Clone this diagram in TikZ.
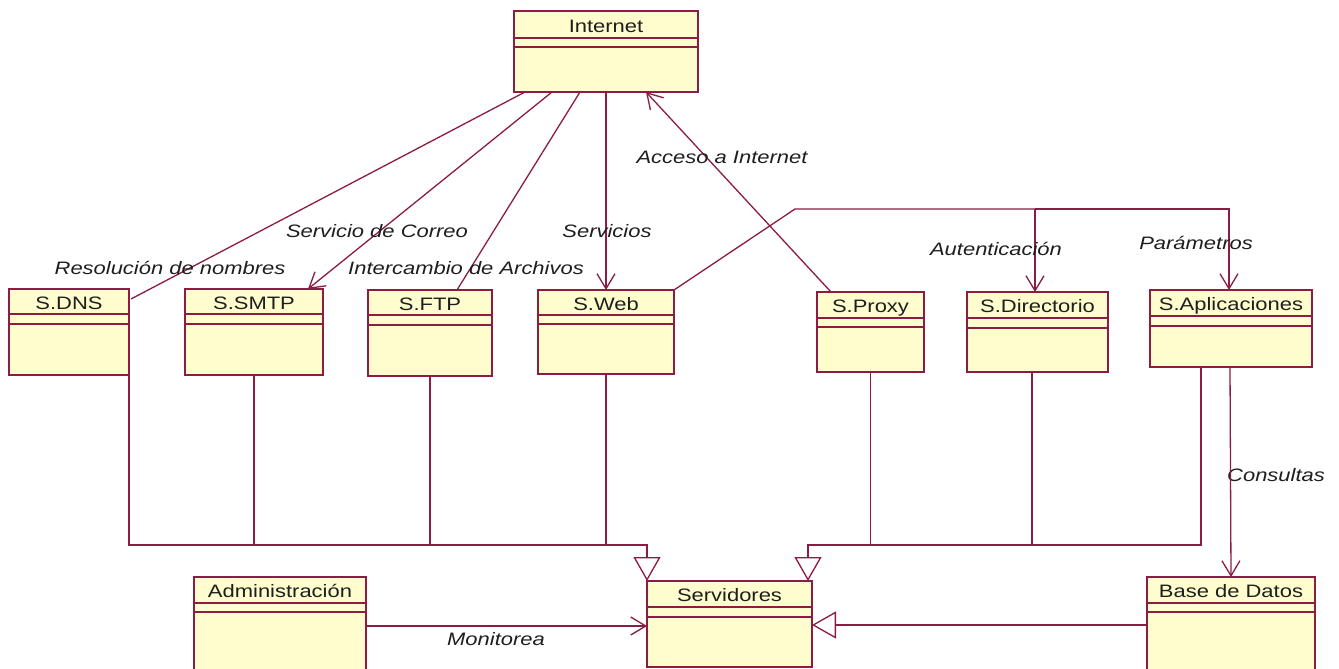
\documentclass[tikz,border=0pt]{standalone}
\usepackage{fontspec}
\setmainfont{Liberation Sans}[FakeStretch=1.22]
\usetikzlibrary{arrows.meta,calc,fit}
\definecolor{umlred}{RGB}{140,28,68}
\definecolor{umlfill}{RGB}{255,252,205}
\definecolor{umltext}{RGB}{30,30,30}
\tikzset{
 cls/.style={draw=umlred, fill=umlfill, line width=1.8pt, inner sep=0pt, outer sep=0pt, rectangle},
 sepline/.style={draw=umlred, line width=1.5pt},
 clstext/.style={font=\fontsize{18}{20}\selectfont, text=umltext, inner sep=0pt, text height=12.9pt, text depth=0pt},
 conn/.style={draw=umlred, line width=1.3pt},
 assoc/.style={conn, -{Straight Barb[length=15pt,width=18pt,line width=1.3pt]}},
 gen/.style={conn, -{Triangle[open,length=24pt,width=27pt,fill=white,line width=1.3pt]}},
 lbl/.style={font=\fontsize{18}{20}\selectfont\itshape, text=umltext, inner sep=0pt, text height=12.9pt, text depth=0pt},
}
\newcommand\umlbox[8]{%
  \coordinate (#1-nw) at (#2,#3);
  \coordinate (#1-se) at (#4,#5);
  \node[cls, fit=(#1-nw)(#1-se)] (#1) {};
  \draw[sepline] (#2,#6) -- (#4,#6) (#2,#7) -- (#4,#7);
  \node[clstext] (#1-t) at ({(#2+#4)/2},{(#3+#6)/2+1.5}) {#8};
}
\begin{document}
\begin{tikzpicture}[x=1pt,y=-1pt]
\fill[white] (0,0) rectangle (1339,669);
\useasboundingbox (0,0) rectangle (1339,669);
\clip (0,0) rectangle (1339,669);

% classes
\umlbox{inet}{514}{11}{698}{92}{38}{47}{Internet}
\umlbox{dns}{9}{289}{129}{375}{314}{324}{S.DNS}
\umlbox{smtp}{185}{289}{323}{375}{314}{324}{S.SMTP}
\umlbox{ftp}{368}{290}{492}{376}{315}{325}{S.FTP}
\umlbox{web}{538}{290}{674}{374}{315}{324}{S.Web}
\umlbox{proxy}{817}{292}{924}{372}{318}{327}{S.Proxy}
\umlbox{dir}{967}{292}{1108}{372}{318}{328}{S.Directorio}
\umlbox{apl}{1150}{290}{1312}{367}{316}{326}{S.Aplicaciones}
\umlbox{serv}{647}{581}{812}{667}{607}{617}{Servidores}
\umlbox{adm}{194}{577}{366}{680}{603}{612}{Administración}
\umlbox{bdd}{1147}{577}{1315}{680}{603}{612}{Base de Datos}

% Internet associations
\draw[conn] ($(dns.north east)+(2,10)$) -- ($(inet.south west)+(11,0)$);
\draw[assoc] ($(inet.south west)+(38,0)$) -- ($(smtp.north east)+(-15,0)$);
\draw[conn] ($(inet.south west)+(66,0)$) -- ($(ftp.north east)+(-35,0)$);
\draw[assoc] ($(inet.south west)+(92,0)$) -- (web.north);
\draw[assoc] ($(proxy.north west)+(14,0)$) -- ($(inet.south west)+(132,0)$);

% Web to Directorio / Aplicaciones
\coordinate (bend) at (795,209);
\coordinate (jct) at (1035,209);
\draw[conn] (web.north east) -- (bend) -- (jct);
\draw[assoc] (jct) -- (jct |- dir.north);
\draw[assoc] (jct) -| ($(apl.north)+(-2,0)$);

% labels
\node[lbl] (l1) at (170,268) {Resolución de nombres};
\node[lbl] (l2) at (377,231) {Servicio de Correo};
\node[lbl] (l3) at (466,268) {Intercambio de Archivos};
\node[lbl] (l4) at (607,231) {Servicios};
\node[lbl] (l5) at (722,157) {Acceso a Internet};
\node[lbl] (l6) at (996,249) {Autenticación};
\node[lbl] (l7) at (1196,243) {Parámetros};
\node[lbl] (l8) at (1276,475) {Consultas};
\node[lbl] (l9) at (496,639) {Monitorea};

% generalizations left
\coordinate (busL) at (647,545);
\draw[gen] (dns.south east) |- (busL) -- (serv.north west);
\draw[conn] (smtp.south) -- (smtp.south |- busL);
\draw[conn] (ftp.south) -- (ftp.south |- busL);
\draw[conn] (web.south) -- (web.south |- busL);

% generalizations right
\coordinate (busR) at (808,545);
\coordinate (aplb) at (1201,367);
\coordinate (dirb) at (1032,372);
\draw[gen] (aplb) |- (busR) -- (busR |- serv.north);
\draw[conn] (proxy.south) -- (proxy.south |- busR);
\draw[conn] (dirb) -- (dirb |- busR);

% Consultas
\draw[assoc] ($(apl.south)+(-1,0)$) -- (bdd.north);

% Monitorea
\coordinate (monY) at (0,626);
\draw[assoc] (adm.east |- monY) -- (serv.west |- monY);

% Base de Datos generalization
\coordinate (genY) at (0,625);
\draw[gen] (bdd.west |- genY) -- (serv.east |- genY);
\end{tikzpicture}
\end{document}
